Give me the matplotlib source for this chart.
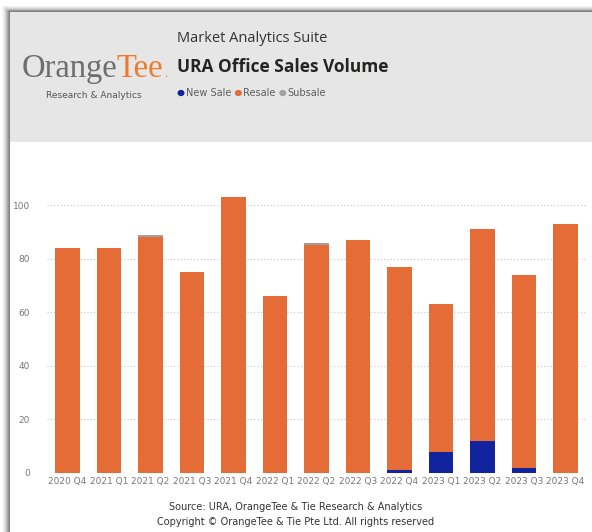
import matplotlib.pyplot as plt
import matplotlib.patches as mpatches
import numpy as np

quarters = ["2020 Q4", "2021 Q1", "2021 Q2", "2021 Q3", "2021 Q4", "2022 Q1", "2022 Q2",
            "2022 Q3", "2022 Q4", "2023 Q1", "2023 Q2", "2023 Q3", "2023 Q4"]
new_sale = [0, 0, 0, 0, 0, 0, 0, 0, 1, 8, 12, 2, 0]
resale = [84, 84, 88, 75, 103, 66, 85, 87, 76, 55, 79, 72, 93]
subsale = [0, 0, 1, 0, 0, 0, 1, 0, 0, 0, 0, 0, 0]

c_new = "#12239E"
c_resale = "#E66C37"
c_sub = "#A0A0A0"

W, H = 592, 532
fig = plt.figure(figsize=(W / 100, H / 100), dpi=100)
fig.patch.set_facecolor("white")

def fx(x):
    return x / W

def fy(y):
    return 1 - y / H

# panel shadow
for i, a in enumerate([0.06, 0.10, 0.14, 0.20, 0.28, 0.36, 0.45, 0.55]):
    off = 8 - i
    fig.patches.append(mpatches.Rectangle((fx(10 - off), 0), 1, fy(12 - off * 0.8),
                                          transform=fig.transFigure, facecolor="#606060",
                                          alpha=a * 0.6, edgecolor="none", zorder=0))
fig.patches.append(mpatches.Rectangle((fx(10), 0), 1, fy(12), transform=fig.transFigure,
                                      facecolor="white", edgecolor="none", zorder=1))
# header band
fig.patches.append(mpatches.Rectangle((fx(10), fy(142)), 1, fy(12) - fy(142),
                                      transform=fig.transFigure, facecolor="#E6E6E6",
                                      edgecolor="none", zorder=2))

# logo
t = fig.text(fx(22), fy(77), "Orange", fontsize=23.5, color="#6E6E6E",
             family="Liberation Serif", zorder=3)
fig.canvas.draw()
bb = t.get_window_extent()
t2 = fig.text((bb.x1 - 1) / W, fy(77), "Tee", fontsize=23.5, color="#EE7A2A",
              family="Liberation Serif", zorder=3)
fig.canvas.draw()
bb2 = t2.get_window_extent()
fig.text((bb2.x1 + 0.5) / W, fy(77), ".", fontsize=9, color="#EE7A2A",
         family="Liberation Serif", zorder=3)
fig.text(fx(94), fy(95), "Research & Analytics", fontsize=6.5, color="#555555",
         ha="center", va="center", zorder=3)

# titles
fig.text(fx(177), fy(39), "Market Analytics Suite", fontsize=10.5, color="#333333",
         va="center", family="Open Sans", zorder=3)
fig.text(fx(177), fy(67), "URA Office Sales Volume", fontsize=12.5, color="#252423",
         fontweight="bold", va="center", family="Open Sans", zorder=3)

# legend
lx = 181
for name, col in [("New Sale", c_new), ("Resale", c_resale), ("Subsale", c_sub)]:
    fig.patches.append(mpatches.Circle((fx(lx), fy(93)), 3.5 / W, transform=fig.transFigure,
                                       facecolor=col, edgecolor="none", zorder=3))
    tt = fig.text(fx(lx + 5), fy(93), name, fontsize=7, color="#605E5C",
                  va="center", zorder=3)
    fig.canvas.draw()
    lx = tt.get_window_extent().x1 + 7

# chart
left, right = 46.75, 586.25
top, bottom = 178.5, 473
ax = fig.add_axes([fx(left), fy(bottom), fx(right - left), fy(top) - fy(bottom)], zorder=4)
ax.set_facecolor("none")
x = np.arange(len(quarters))
ns = np.array(new_sale)
rs = np.array(resale)
ss = np.array(subsale)
ax.bar(x, ns, width=0.6, color=c_new, zorder=3)
ax.bar(x, rs, width=0.6, bottom=ns, color=c_resale, zorder=3)
ax.bar(x, ss, width=0.6, bottom=ns + rs, color=c_sub, zorder=3)
ax.set_xlim(-0.5, len(quarters) - 0.5)
ax.set_ylim(0, 110)
ax.set_yticks([0, 20, 40, 60, 80, 100])
ax.set_xticks(x)
ax.set_xticklabels(quarters)
ax.tick_params(length=0, labelsize=6.5, colors="#777777")
ax.tick_params(axis="y", pad=12)
ax.tick_params(axis="x", pad=3)
ax.grid(axis="y", color="#C8C8C8", linestyle=(0, (1, 2)), linewidth=0.8, zorder=0)
for s in ax.spines.values():
    s.set_visible(False)

# footer
fig.text(fx(296), fy(507), "Source: URA, OrangeTee & Tie Research & Analytics",
         fontsize=7, color="#333333", ha="center", va="center")
fig.text(fx(296), fy(522), "Copyright \u00a9 OrangeTee & Tie Pte Ltd. All rights reserved",
         fontsize=7, color="#333333", ha="center", va="center")

fig.savefig("out.png", dpi=100)
